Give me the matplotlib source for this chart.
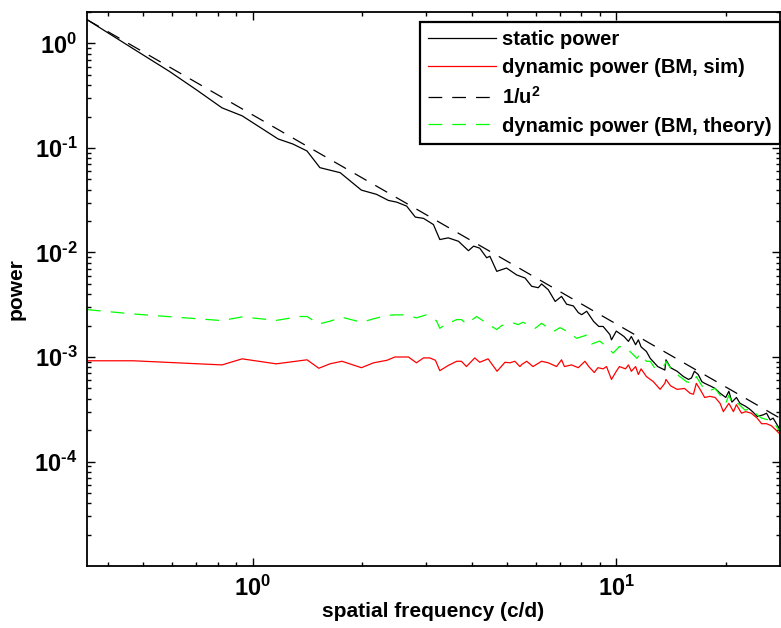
import matplotlib
matplotlib.use("Agg")
import matplotlib.pyplot as plt
from matplotlib.ticker import LogLocator, NullFormatter

plt.rcParams["font.family"] = ["Liberation Sans", "DejaVu Sans"]
plt.rcParams["font.weight"] = "bold"
plt.rcParams["mathtext.fontset"] = "custom"
plt.rcParams["mathtext.rm"] = "Liberation Sans:bold"
plt.rcParams["mathtext.it"] = "Liberation Sans:bold"
plt.rcParams["mathtext.bf"] = "Liberation Sans:bold"

# static power (black solid)
static_freq = [0.35, 0.469, 0.59, 0.70, 0.823, 0.935, 1.174, 1.29, 1.41, 1.53,
               1.74, 1.99, 2.19, 2.36, 2.49, 2.65, 2.80, 2.95, 3.14, 3.27,
               3.45, 3.68, 3.92, 4.05, 4.21, 4.40, 4.49, 4.69, 4.99, 5.32,
               5.61, 5.85, 6.10, 6.23, 6.50, 6.79, 7.07, 7.30, 7.62, 7.86,
               8.03, 8.29, 8.66, 8.95, 9.2, 9.6, 9.7, 10.0, 10.5, 10.8,
               11.0, 11.3, 11.5, 11.7, 12.1, 12.4, 13.0, 13.6, 13.7, 14.1,
               14.7, 15.3, 15.8, 16.1, 16.4, 16.8, 17.2, 17.5, 18.1, 18.7,
               19.3, 20.0, 20.4, 20.8, 21.4, 21.9, 22.6, 23.2, 23.7, 24.4,
               25.4, 25.9, 26.5, 27.0, 27.9, 28.3]
static_power = [1.69, 0.89, 0.54, 0.36, 0.242, 0.203, 0.122, 0.109, 0.0936, 0.0648,
                0.058, 0.0395, 0.036, 0.0315, 0.0303, 0.0278, 0.0218, 0.0212, 0.0185, 0.0133,
                0.0138, 0.0128, 0.0104, 0.0115, 0.011, 0.0089, 0.0092, 0.0066, 0.0071, 0.0061,
                0.0057, 0.00475, 0.0046, 0.0050, 0.0044, 0.0034, 0.0038, 0.0032, 0.00308, 0.00266,
                0.00254, 0.00274, 0.00219, 0.00196, 0.00196, 0.00164, 0.00146, 0.00177, 0.00157, 0.00141,
                0.00157, 0.00131, 0.00146, 0.00125, 0.00113, 0.00097, 0.00081, 0.00075, 0.00094, 0.00079,
                0.00073, 0.00065, 0.00061, 0.00063, 0.00073, 0.00068, 0.00058, 0.00056, 0.00053, 0.00050,
                0.00045, 0.00041, 0.00047, 0.00037, 0.00041, 0.00036, 0.00034, 0.00032, 0.00030, 0.00027,
                0.00028, 0.00029, 0.00025, 0.00026, 0.000215, 0.00019]

# dynamic power, simulation (red solid)
sim_freq = [0.35, 0.469, 0.823, 0.935, 1.16, 1.41, 1.52, 1.63, 1.76, 1.99,
            2.15, 2.34, 2.46, 2.68, 2.82, 2.95, 3.07, 3.18, 3.27, 3.45,
            3.64, 3.75, 3.87, 4.08, 4.21, 4.44, 4.70, 4.94, 5.1, 5.26,
            5.43, 5.5, 5.67, 5.9, 6.23, 6.5, 6.85, 7.07, 7.2, 7.53,
            7.86, 8.2, 8.4, 8.7, 8.9, 9.2, 9.4, 9.7, 10.0, 10.2,
            10.6, 10.8, 11.0, 11.3, 11.5, 11.7, 12.1, 12.65, 13.2, 13.6,
            13.7, 14.1, 14.7, 15.4, 15.95, 16.3, 16.6, 17.0, 17.5, 18.1,
            18.7, 19.3, 19.7, 20.4, 21.0, 21.4, 22.1, 22.7, 23.5, 24.4,
            25.1, 25.9, 26.7, 27.5, 28.3]
sim_power = [0.00092, 0.00092, 0.00084, 0.00096, 0.00086, 0.00094, 0.00078, 0.00086, 0.00091, 0.00079,
             0.00088, 0.00093, 0.00100, 0.00100, 0.00088, 0.00098, 0.00098, 0.00093, 0.00074, 0.00083,
             0.00091, 0.00091, 0.00081, 0.00098, 0.00089, 0.00096, 0.00073, 0.00089, 0.00088, 0.00091,
             0.00081, 0.00085, 0.00091, 0.00081, 0.00091, 0.00088, 0.00081, 0.00094, 0.00081, 0.00084,
             0.00079, 0.00091, 0.00081, 0.00071, 0.00079, 0.00077, 0.00081, 0.00061, 0.00073, 0.00081,
             0.00077, 0.00084, 0.00073, 0.00081, 0.00068, 0.00077, 0.00065, 0.00058, 0.00049, 0.00056,
             0.00061, 0.00053, 0.00049, 0.00050, 0.00045, 0.00044, 0.00056, 0.00049, 0.00041, 0.00042,
             0.00041, 0.00036, 0.00030, 0.00036, 0.00030, 0.00035, 0.00029, 0.00030, 0.00029, 0.00026,
             0.00023, 0.00023, 0.00022, 0.00020, 0.00018]

# 1/u^2 reference (black dashed), end points
ref_freq = [0.35, 28.3]
ref_power = [1.69, 0.000258]

# dynamic power, theory (green dashed)
theory_freq = [0.35, 0.469, 0.823, 0.935, 1.16, 1.35, 1.41, 1.52, 1.63, 1.76,
               1.99, 2.15, 2.34, 2.46, 2.6, 2.82, 3.0, 3.2, 3.27, 3.38,
               3.64, 3.75, 3.87, 4.13, 4.36, 4.69, 4.84, 5.2, 5.37, 5.54,
               5.98, 6.23, 6.71, 7.0, 7.45, 7.78, 8.29, 8.55, 9.0, 9.4,
               9.8, 10.2, 10.7, 10.9, 11.4, 11.6, 12.1, 12.4, 12.8, 13.6,
               13.7, 14.3, 14.95, 15.6, 16.3, 16.6, 17.2, 17.9, 18.7, 19.3,
               20.0, 20.4, 21.0, 21.6, 22.6, 23.5, 24.4, 25.1, 26.2, 27.0,
               28.3]
theory_power = [0.00284, 0.00258, 0.00223, 0.00242, 0.00224, 0.00244, 0.00244, 0.00207, 0.0022, 0.0024,
                0.00215, 0.00232, 0.0025, 0.00253, 0.00253, 0.00237, 0.00253, 0.00222, 0.00188, 0.00203,
                0.00228, 0.00228, 0.00207, 0.00244, 0.00215, 0.00183, 0.0020, 0.00212, 0.00204, 0.00215,
                0.00188, 0.0021, 0.00175, 0.00191, 0.00170, 0.00151, 0.00162, 0.00133, 0.00142, 0.00126,
                0.00109, 0.00126, 0.00122, 0.00113, 0.00097, 0.00107, 0.00091, 0.00091, 0.00077, 0.00084,
                0.00091, 0.00073, 0.00065, 0.00058, 0.00056, 0.00065, 0.00053, 0.00047, 0.00050, 0.00043,
                0.00036, 0.00043, 0.00034, 0.00036, 0.00031, 0.00032, 0.00028, 0.00026, 0.00025, 0.00024,
                0.00019]

fig = plt.figure(figsize=(7.81, 6.28), dpi=100)
ax = fig.add_axes([0.1114, 0.0987, 0.8873, 0.8822])

ax.loglog(static_freq, static_power, color="black", lw=0.9, label="static power")
ax.loglog(sim_freq, sim_power, color="red", lw=0.9, label="dynamic power (BM, sim)")
ax.loglog(ref_freq, ref_power, color="black", lw=0.9, dashes=(11, 8), label="1/u$^2$")
ax.loglog(theory_freq, theory_power, color=(0, 1, 0), lw=0.9, dashes=(11, 8),
          label="dynamic power (BM, theory)")

ax.set_xlim(0.35, 28.2)
ax.set_ylim(1e-5, 2)

ax.set_xticks([1, 10])
ax.set_xticklabels([r"10$^{0}$", r"10$^{1}$"])
ax.set_yticks([1e-4, 1e-3, 1e-2, 1e-1, 1])
ax.set_yticklabels([r"10$^{\text{-}4}$", r"10$^{\text{-}3}$", r"10$^{\text{-}2}$",
                    r"10$^{\text{-}1}$", r"10$^{0}$"])
ax.xaxis.set_minor_locator(LogLocator(base=10, subs=range(2, 10)))
ax.yaxis.set_minor_locator(LogLocator(base=10, subs=range(2, 10)))
ax.xaxis.set_minor_formatter(NullFormatter())
ax.yaxis.set_minor_formatter(NullFormatter())

ax.tick_params(which="both", direction="in", top=True, right=True, labelsize=17, width=1.0)
ax.tick_params(which="major", length=6, pad=7)
ax.tick_params(which="minor", length=3)
for s in ax.spines.values():
    s.set_linewidth(1.3)

ax.set_xlabel("spatial frequency (c/d)", fontsize=15, fontweight="bold", labelpad=1)
ax.set_ylabel("power", fontsize=15, fontweight="bold", labelpad=6)

leg = ax.legend(loc="upper right", bbox_to_anchor=(1.0, 1 - 10 / 554), borderaxespad=0,
                fontsize=14.5, handlelength=3.4, handletextpad=0.3, labelspacing=0.44,
                fancybox=False, framealpha=1, edgecolor="black", borderpad=0.4)
leg.get_frame().set_linewidth(1.6)

fig.savefig("out.png", dpi=100)
